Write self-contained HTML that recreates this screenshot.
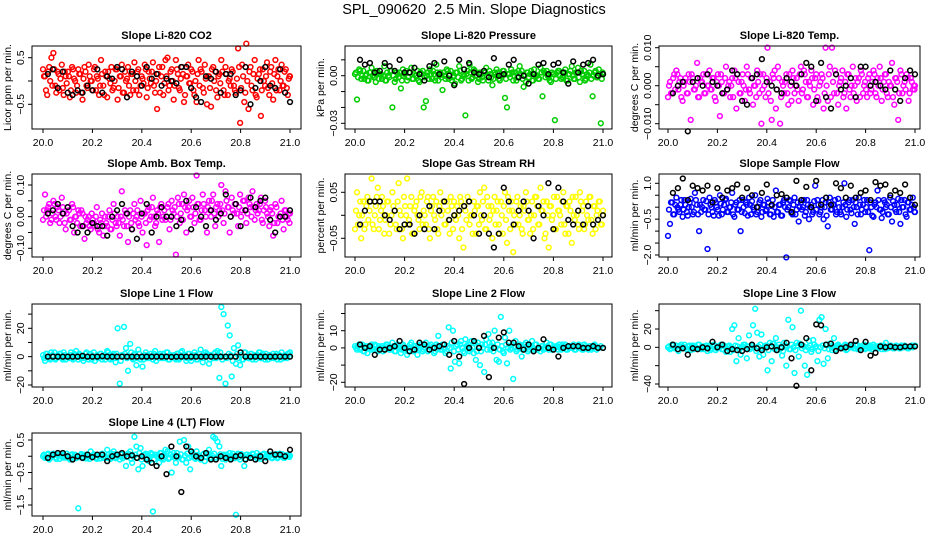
<!DOCTYPE html>
<html><head><meta charset="utf-8"><title>SPL_090620 2.5 Min. Slope Diagnostics</title>
<style>
html,body{margin:0;padding:0;background:#fff;}
svg{display:block;font-family:"Liberation Sans",Arial,sans-serif;}
</style></head>
<body>
<svg id="chart" width="936" height="540" viewBox="0 0 936 540" xmlns="http://www.w3.org/2000/svg">
<rect width="936" height="540" fill="#fff"/>
<text x="474" y="14" text-anchor="middle" font-size="14.5" xml:space="preserve">SPL_090620  2.5 Min. Slope Diagnostics</text>
</svg>
<script>
// shared time axes (day fraction)
const timesColor = [20.000,20.008,20.017,20.025,20.034,20.042,20.050,20.059,20.067,20.076,
20.084,20.092,20.101,20.109,20.118,20.126,20.134,20.143,20.151,20.160,
20.168,20.176,20.185,20.193,20.202,20.210,20.218,20.227,20.235,20.244,
20.252,20.260,20.269,20.277,20.286,20.294,20.302,20.311,20.319,20.328,
20.336,20.344,20.353,20.361,20.370,20.378,20.386,20.395,20.403,20.412,
20.420,20.428,20.437,20.445,20.454,20.462,20.470,20.479,20.487,20.496,
20.504,20.512,20.521,20.529,20.538,20.546,20.554,20.563,20.571,20.580,
20.588,20.596,20.605,20.613,20.622,20.630,20.638,20.647,20.655,20.664,
20.672,20.680,20.689,20.697,20.706,20.714,20.722,20.731,20.739,20.748,
20.756,20.764,20.773,20.781,20.790,20.798,20.806,20.815,20.823,20.832,
20.840,20.848,20.857,20.865,20.874,20.882,20.890,20.899,20.907,20.916,
20.924,20.932,20.941,20.949,20.958,20.966,20.974,20.983,20.991,21.000];
const timesColorB = [20.004,20.012,20.021,20.029,20.038,20.046,20.054,20.063,20.071,20.080,
20.088,20.096,20.105,20.113,20.122,20.130,20.138,20.147,20.155,20.164,
20.172,20.180,20.189,20.197,20.206,20.214,20.222,20.231,20.239,20.248,
20.256,20.264,20.273,20.281,20.290,20.298,20.306,20.315,20.323,20.332,
20.340,20.348,20.357,20.365,20.374,20.382,20.390,20.399,20.407,20.416,
20.424,20.432,20.441,20.449,20.458,20.466,20.474,20.483,20.491,20.500,
20.508,20.516,20.525,20.533,20.542,20.550,20.558,20.567,20.575,20.584,
20.592,20.600,20.609,20.617,20.626,20.634,20.642,20.651,20.659,20.668,
20.676,20.684,20.693,20.701,20.710,20.718,20.726,20.735,20.743,20.752,
20.760,20.768,20.777,20.785,20.794,20.802,20.810,20.819,20.827,20.836,
20.844,20.852,20.861,20.869,20.878,20.886,20.894,20.903,20.911,20.920,
20.928,20.936,20.945,20.953,20.962,20.970,20.978,20.987,20.995,20.998];
const timesBlack = [20.02,20.04,20.06,20.08,20.10,20.12,20.14,20.16,20.18,20.20,
20.22,20.24,20.26,20.28,20.30,20.32,20.34,20.36,20.38,20.40,
20.42,20.44,20.46,20.48,20.50,20.52,20.54,20.56,20.58,20.60,
20.62,20.64,20.66,20.68,20.70,20.72,20.74,20.76,20.78,20.80,
20.82,20.84,20.86,20.88,20.90,20.92,20.94,20.96,20.98,21.00];
const xTicks = [20.0,20.2,20.4,20.6,20.8,21.0];
const xTickLabels = ["20.0","20.2","20.4","20.6","20.8","21.0"];

const co2Color = [0.25,0.1,-0.3,0.3,0.5,0.6,-0.1,0.2,-0.2,0.35,-0.3,0.1,0.2,-0.35,0.3,0.05,-0.25,0.25,0.15,-0.4,0.3,-0.1,0.35,0.0,-0.2,0.3,0.1,-0.3,0.45,-0.1,0.2,-0.35,0.05,0.3,-0.15,0.25,-0.4,0.1,0.35,-0.25,0.0,0.3,-0.3,0.15,0.4,-0.2,0.25,-0.1,0.05,0.35,-0.35,0.2,-0.05,0.4,-0.25,-0.6,0.3,0.1,-0.3,0.45,0.5,-0.1,0.25,-0.4,0.45,0.15,-0.2,0.3,-0.45,0.1,0.35,-0.05,0.2,-0.3,-0.45,0.45,0.25,-0.15,0.35,-0.5,0.1,-0.55,0.3,0.2,-0.35,0.15,0.45,-0.2,0.3,-0.3,0.05,0.25,-0.1,-0.25,0.7,-0.9,0.35,-0.45,0.8,-0.6,0.3,-0.2,0.45,-0.35,0.15,-0.75,0.25,-0.1,0.4,-0.3,0.3,-0.4,0.45,0.1,-0.2,0.35,-0.1,0.25,-0.3,0.1];
const co2ColorB = [0.1,-0.2,0.2,0.0,-0.1,0.25,-0.25,0.15,0.05,-0.15,0.2,-0.05,0.1,-0.2,0.25,0.0,-0.1,0.15,-0.25,0.05,0.2,-0.15,0.1,0.0,0.25,-0.2,0.05,-0.1,0.15,-0.3,0.1,0.2,-0.05,-0.2,0.0,0.25,-0.15,0.1,-0.25,0.2,0.05,-0.1,0.15,-0.2,0.0,0.2,-0.3,0.1,-0.05,0.25,-0.15,0.05,0.2,-0.1,0.0,0.15,-0.25,0.3,-0.05,0.1,-0.2,0.2,0.0,-0.1,0.25,-0.15,0.05,0.15,-0.3,0.1,-0.05,0.25,-0.2,0.0,0.15,-0.1,0.2,-0.25,0.05,0.1,-0.15,0.25,0.0,-0.2,0.1,-0.05,0.2,-0.3,0.15,0.0,-0.1,0.2,-0.2,0.05,0.3,-0.15,0.1,-0.25,0.0,0.2,-0.1,0.15,-0.3,0.05,0.25,-0.2,0.0,0.1,-0.15,0.2,-0.05,0.15,-0.2,0.25,0.0,-0.1,0.2,-0.15,0.05,0.1];
const co2Black = [0.15,0.25,-0.15,0.2,-0.25,-0.3,-0.2,-0.25,-0.1,-0.2,0.25,-0.25,0.1,0.05,0.3,0.25,-0.35,0.2,0.1,-0.1,0.3,0.05,0.15,-0.1,0.05,0.0,-0.05,0.3,0.3,-0.15,-0.35,-0.45,0.1,0.05,0.2,-0.25,0.15,0.15,-0.3,-0.2,0.3,-0.5,-0.15,0.0,0.3,-0.1,-0.15,0.25,-0.25,-0.45];
const presColor = [0.001,-0.015,0.004,-0.002,0.003,0.0,-0.003,0.002,0.005,-0.001,-0.004,0.002,0.001,-0.002,0.006,-0.003,0.0,0.003,-0.02,-0.004,0.002,-0.001,-0.008,0.004,0.001,-0.003,0.002,0.005,-0.002,0.0,0.003,-0.004,0.001,-0.02,-0.016,0.002,0.004,-0.002,0.001,0.007,-0.003,0.002,-0.009,0.0,0.004,-0.002,0.003,-0.001,-0.005,0.002,0.006,-0.003,0.001,-0.025,0.003,0.007,-0.002,0.004,0.0,-0.004,0.002,-0.001,0.003,0.005,-0.003,0.001,-0.006,0.002,0.004,-0.002,0.0,0.003,-0.014,-0.02,0.001,0.004,-0.003,0.002,-0.001,0.006,0.003,-0.007,-0.004,0.002,0.001,-0.003,0.004,0.0,-0.002,0.005,-0.013,0.002,0.003,-0.001,-0.004,0.001,-0.028,0.002,0.003,-0.002,0.0,0.004,-0.003,0.001,0.006,-0.002,0.002,0.005,-0.004,0.001,0.003,-0.002,0.0,0.007,-0.013,0.002,-0.001,0.004,-0.03,0.001];
const presColorB = [0.002,-0.001,0.003,0.0,-0.002,0.001,-0.003,0.002,0.0,-0.001,0.003,-0.002,0.001,0.0,-0.003,0.002,-0.001,0.003,0.0,-0.002,0.001,0.002,-0.003,0.0,0.003,-0.001,0.002,-0.002,0.001,0.0,-0.003,0.002,0.003,-0.001,0.0,-0.002,0.001,0.003,-0.003,0.002,0.0,-0.001,0.002,-0.002,0.003,0.001,-0.003,0.0,0.002,-0.001,0.003,-0.002,0.0,0.001,-0.003,0.002,-0.001,0.003,0.0,-0.002,0.001,-0.003,0.002,0.0,0.003,-0.001,-0.002,0.001,0.002,-0.003,0.0,0.003,-0.002,0.001,-0.001,0.002,0.0,-0.003,0.003,0.001,-0.002,0.0,0.002,-0.001,0.003,-0.003,0.001,0.0,-0.002,0.002,0.003,-0.001,0.0,-0.003,0.002,0.001,-0.002,0.003,0.0,-0.001,0.002,-0.003,0.001,0.003,0.0,-0.002,0.002,-0.001,0.003,0.0,-0.003,0.001,0.002,-0.002,0.0,0.003,-0.001,0.001,-0.002,0.002];
const presBlack = [0.01,0.007,0.008,0.002,0.003,0.008,0.006,0.003,0.01,0.002,0.002,0.005,0.001,-0.003,0.006,0.008,0.001,0.009,0.0,-0.006,0.01,0.004,0.008,0.002,0.001,0.003,-0.001,0.011,0.0,0.001,0.007,0.01,-0.001,0.0,-0.005,0.001,0.007,0.008,0.001,0.007,0.008,0.002,-0.005,0.009,0.002,0.007,0.008,0.01,0.0,0.001];
const tempColor = [-0.003,0.001,-0.002,0.003,0.004,-0.001,0.002,-0.004,0.001,-0.002,0.003,-0.009,0.002,-0.001,0.006,-0.003,0.001,0.003,-0.002,0.0,0.004,-0.001,0.002,-0.004,0.003,-0.008,0.001,-0.002,0.005,0.0,-0.003,0.002,0.004,-0.006,0.001,-0.002,0.003,-0.004,0.005,-0.001,0.002,-0.005,0.0,0.004,-0.002,-0.01,0.003,-0.003,0.01,0.001,-0.009,0.002,-0.006,0.005,-0.01,0.001,-0.002,0.003,-0.005,0.0,0.004,-0.002,0.002,-0.004,0.005,-0.001,0.003,-0.003,0.001,0.004,-0.005,0.002,-0.003,0.0,0.003,-0.006,0.01,-0.004,0.005,0.01,-0.002,0.003,-0.005,0.001,0.004,-0.002,-0.006,0.003,-0.003,0.005,0.0,-0.004,0.002,0.004,-0.002,0.001,-0.003,0.003,-0.001,0.004,-0.002,0.002,0.005,-0.004,0.001,0.003,-0.003,0.0,0.006,-0.005,0.002,-0.009,0.004,-0.002,0.001,0.003,-0.004,0.002,-0.001,0.0];
const tempColorB = [0.0,-0.002,0.002,-0.001,0.003,0.001,-0.003,0.0,0.002,-0.002,0.001,0.003,-0.001,0.0,-0.003,0.002,0.001,-0.002,0.003,0.0,-0.001,0.002,-0.003,0.001,0.0,0.003,-0.002,0.002,-0.001,0.001,0.0,-0.003,0.002,0.003,-0.002,0.001,0.0,-0.001,0.003,-0.002,0.002,0.0,-0.003,0.001,0.003,-0.001,0.0,0.002,-0.002,-0.004,0.003,0.004,-0.001,0.002,-0.003,0.0,0.001,-0.002,0.003,-0.004,0.002,0.0,-0.001,0.003,-0.002,0.004,0.001,-0.003,0.0,0.002,-0.001,0.003,-0.004,0.001,0.002,-0.002,0.0,0.003,-0.003,0.001,0.004,-0.002,0.0,0.002,-0.003,0.001,0.003,-0.001,0.0,-0.002,0.002,0.001,-0.003,0.003,0.0,-0.001,0.002,-0.002,0.001,0.003,-0.003,0.0,0.002,-0.001,0.003,-0.002,0.001,0.0,-0.003,0.002,0.001,-0.002,0.003,0.0,-0.001,0.002,-0.002,0.001,0.0,-0.001];
const tempBlack = [-0.002,0.0,0.001,-0.012,0.001,0.002,0.0,0.003,0.001,0.0,-0.002,-0.001,0.004,0.003,-0.004,-0.005,0.002,0.003,0.007,0.001,0.0,-0.001,-0.002,0.002,0.001,0.0,0.003,0.006,0.005,-0.004,0.006,-0.003,-0.006,0.003,-0.001,0.0,0.002,-0.003,0.005,0.005,0.0,0.001,0.0,-0.001,0.004,-0.001,-0.004,0.002,0.004,0.003];
const ambColor = [-0.01,0.07,0.02,0.04,-0.01,0.05,0.0,0.03,-0.02,0.06,0.01,-0.04,0.03,-0.01,0.04,-0.05,0.0,0.02,-0.03,0.01,-0.07,-0.02,0.0,-0.04,-0.01,-0.03,0.03,-0.05,-0.02,-0.06,0.0,-0.03,0.02,-0.04,0.04,-0.02,0.0,-0.06,0.08,-0.03,0.01,-0.08,0.02,-0.04,0.04,0.0,-0.02,0.05,-0.05,0.01,-0.09,0.03,0.0,0.06,-0.03,0.02,-0.08,0.04,0.0,-0.01,0.03,-0.04,0.05,0.01,-0.12,0.06,-0.02,0.04,0.07,-0.05,0.03,0.0,0.06,-0.02,0.13,0.04,-0.01,0.07,0.02,-0.05,0.05,0.0,0.07,-0.03,0.04,0.02,0.1,-0.02,0.08,0.03,-0.05,0.06,0.01,0.04,-0.03,0.07,0.02,0.05,-0.02,0.06,0.03,0.08,-0.01,0.04,0.02,0.06,-0.02,0.05,0.01,-0.03,0.03,-0.06,0.04,-0.02,0.0,0.05,-0.04,0.02,-0.01,0.01];
const ambColorB = [0.02,0.0,0.03,-0.02,0.01,0.04,-0.01,0.02,0.0,0.03,-0.02,0.01,0.02,-0.01,0.03,0.0,-0.02,0.01,0.02,-0.03,0.0,-0.01,-0.03,0.01,-0.02,0.0,-0.04,-0.01,0.01,-0.03,-0.02,0.0,-0.04,-0.01,0.01,-0.03,-0.02,0.0,-0.01,0.02,-0.03,0.0,-0.02,0.01,-0.01,0.02,-0.03,0.0,0.01,-0.02,0.02,-0.01,0.03,0.0,-0.02,0.01,0.03,-0.01,0.02,0.0,0.04,-0.01,0.02,0.03,0.0,0.04,0.01,-0.01,0.03,0.02,0.05,0.0,0.03,0.01,0.04,-0.01,0.02,0.04,0.0,0.03,0.02,0.05,0.01,0.03,0.0,0.04,0.02,0.01,0.05,0.03,0.0,0.02,0.04,0.01,0.03,0.0,0.05,0.02,0.01,0.04,0.0,0.03,0.02,0.01,0.04,-0.01,0.02,0.03,0.0,0.02,0.01,-0.02,0.03,0.0,0.01,-0.01,0.02,0.0,0.01,-0.02];
const ambBlack = [0.01,0.02,0.04,0.01,0.03,-0.03,-0.05,-0.03,-0.05,-0.02,-0.03,-0.03,-0.06,0.0,0.02,0.04,0.01,-0.04,-0.07,0.01,0.04,-0.05,0.0,0.03,0.0,0.0,-0.03,-0.01,0.05,-0.04,0.03,0.0,-0.03,0.02,-0.01,0.01,0.07,0.0,0.04,-0.03,0.02,0.06,0.03,0.05,0.06,-0.01,-0.05,0.0,0.0,0.02];
const rhColor = [-0.03,0.05,0.0,-0.05,0.03,-0.02,0.04,0.01,0.08,-0.03,0.02,0.06,-0.01,0.04,-0.04,0.0,0.03,-0.02,0.05,0.01,-0.03,0.07,0.0,-0.05,0.02,0.08,-0.01,0.04,-0.04,0.02,0.0,-0.03,0.05,0.01,-0.02,0.04,-0.05,0.02,0.0,0.03,-0.04,0.05,0.01,-0.02,0.03,-0.01,0.04,-0.03,0.0,0.02,-0.05,0.03,-0.07,0.01,0.04,-0.02,0.0,0.03,-0.04,0.02,0.05,-0.01,0.06,-0.03,0.02,0.0,-0.05,0.04,0.01,-0.02,0.03,-0.04,0.05,-0.06,0.01,0.03,-0.08,-0.02,0.04,0.0,-0.03,0.02,0.05,-0.01,-0.04,0.03,0.0,0.04,-0.02,0.06,0.01,-0.05,0.03,-0.07,0.02,0.0,-0.03,0.04,0.01,-0.02,0.05,-0.04,0.02,0.03,-0.06,0.0,0.04,-0.02,0.05,0.01,-0.03,0.03,-0.01,0.04,-0.04,0.02,0.0,0.03,-0.02,0.01];
const rhColorB = [0.01,-0.02,0.03,0.0,-0.03,0.02,-0.01,0.03,-0.02,0.0,0.04,-0.03,0.01,0.02,-0.01,0.03,-0.04,0.0,0.02,-0.02,0.03,0.01,-0.03,0.04,0.0,-0.02,0.02,-0.04,0.01,0.03,-0.01,0.04,-0.02,0.0,0.03,-0.03,0.01,0.04,-0.01,-0.03,0.02,0.0,0.03,-0.02,0.01,-0.04,0.02,0.03,-0.01,0.0,0.04,-0.03,0.02,-0.01,0.03,0.0,-0.04,0.01,0.02,-0.02,0.0,0.03,-0.03,0.04,-0.01,0.02,0.01,-0.02,0.03,-0.04,0.0,0.02,-0.01,0.04,-0.03,0.01,0.0,0.03,-0.02,0.02,-0.04,0.01,0.03,-0.01,0.0,-0.03,0.04,0.02,-0.02,0.01,0.03,-0.04,0.0,0.02,-0.01,0.04,-0.03,0.01,0.0,0.03,-0.02,0.02,-0.04,0.01,0.04,-0.01,0.0,-0.03,0.03,0.02,-0.02,0.0,0.04,-0.01,0.02,-0.03,0.01,0.03,-0.02,0.0];
const rhBlack = [-0.02,0.01,0.03,0.03,0.03,0.0,-0.01,0.01,-0.03,-0.02,-0.02,-0.04,0.0,-0.03,0.02,-0.03,0.01,0.03,-0.01,0.0,0.01,0.02,0.03,0.0,-0.04,0.0,-0.04,-0.07,-0.04,0.06,0.03,-0.02,0.01,0.03,0.01,-0.05,0.02,0.0,0.07,-0.03,0.06,0.03,-0.01,-0.02,0.01,-0.02,0.02,-0.02,-0.01,0.0];
const sampColor = [-1.2,-0.7,0.2,-0.3,0.4,-0.1,0.1,-0.4,0.3,-0.2,0.0,0.35,-0.3,0.6,0.1,-1.0,-0.2,0.3,-0.1,-1.75,0.4,0.0,-0.35,0.2,-0.1,0.5,-0.3,0.1,0.35,-0.2,0.0,0.6,-0.4,0.2,-0.1,-1.0,0.3,-0.25,0.1,0.4,-0.3,0.0,0.5,-0.2,0.2,-0.4,0.1,-0.15,0.35,-0.3,0.05,-0.4,0.7,-0.2,0.1,-0.35,0.3,-2.1,0.0,0.25,-0.3,0.4,-0.1,-0.6,0.2,0.0,-0.35,0.3,-0.5,0.1,-0.2,0.9,0.3,-0.3,0.0,-0.5,0.2,-0.8,0.4,-0.1,0.1,-0.3,0.35,-0.2,0.0,1.0,-0.4,0.2,-0.1,0.3,-0.7,0.0,0.4,-0.3,0.1,-0.2,0.3,-1.8,0.0,-0.4,0.2,0.7,-0.1,-0.45,0.3,0.0,-0.3,0.4,-0.6,0.1,-0.2,0.35,-0.7,0.0,0.3,-0.4,0.2,-0.1,0.4,-0.2];
const sampColorB = [-0.1,0.2,-0.3,0.1,0.0,-0.2,0.3,-0.1,0.1,-0.35,0.2,0.0,-0.2,0.3,-0.3,0.1,0.0,-0.1,0.25,-0.3,0.1,-0.2,0.3,0.0,-0.35,0.15,-0.1,0.3,-0.2,0.0,0.2,-0.3,0.1,-0.1,0.3,-0.2,0.0,0.2,-0.35,0.1,0.25,-0.1,-0.3,0.0,0.3,-0.2,0.1,-0.1,0.2,-0.3,0.3,0.0,-0.2,0.1,-0.35,0.2,0.0,-0.1,0.3,-0.25,0.1,-0.3,0.2,0.0,-0.1,0.3,-0.2,0.1,0.0,-0.3,0.25,-0.1,0.1,-0.2,0.3,0.0,-0.35,0.2,-0.1,0.1,0.3,-0.2,0.0,-0.3,0.2,0.1,-0.1,0.3,-0.25,0.0,0.2,-0.3,0.1,-0.1,0.3,0.0,-0.2,0.2,-0.35,0.1,0.0,0.3,-0.1,-0.2,0.2,0.1,-0.3,0.0,0.25,-0.1,0.1,-0.2,0.3,0.0,-0.3,0.2,-0.1,0.1,0.0,-0.2];
const sampBlack = [0.6,0.8,1.2,0.3,0.9,0.8,0.7,0.9,0.2,0.8,0.4,0.7,0.8,0.95,0.4,0.8,0.5,0.0,0.6,0.95,0.1,0.5,0.55,0.4,-0.2,1.1,0.3,0.85,0.0,1.1,0.1,0.4,0.1,1.0,0.8,0.4,0.9,0.4,0.6,0.7,0.3,1.05,0.9,0.95,0.5,0.7,0.6,0.95,0.4,0.1];
const l1Color = [1,-3,2,-1,3,0,-2,1,2,-1,3,-2,0,1,-1,2,4,-2,1,0,-1,3,-2,2,0,-3,1,-1,2,0,-2,4,1,-1,2,-4,20,-19,1,21,6,-10,9,-1,2,-6,5,-2,-7,1,-1,0,2,-2,4,1,-1,0,2,-1,3,-2,0,1,-2,2,-1,4,0,-3,2,-1,1,3,-2,0,5,-4,1,2,-5,1,-1,3,4,-15,35,30,-19,22,15,-14,6,-5,8,-6,-2,3,0,-1,2,-2,1,0,3,-1,2,-2,0,1,-1,2,0,-2,1,3,-1,0,2,3];
const l1ColorB = [-1,2,0,-2,1,3,-1,0,2,-2,1,0,-1,3,-2,1,0,2,-1,-3,2,0,1,-2,3,0,-1,2,-2,1,0,3,-2,1,-1,2,0,-3,1,2,-1,0,3,-2,1,-1,2,0,-2,3,1,-1,0,2,-3,1,2,-1,0,3,-2,1,0,-1,2,-2,3,0,1,-1,2,-3,0,1,-2,2,0,-1,3,1,-2,0,2,-1,1,3,-2,0,-1,2,1,-3,0,2,-1,1,-2,3,0,-1,2,0,-2,1,3,-1,0,2,-2,1,0,-1,2,1,-2,0,1,-1,2,0];
const l1Black = [0,0,0,0,0,0,0,0.5,0,0,0,0.3,0,0,0,0,0,0,0,0,0,0,0,0,0,-0.2,0,0,0,0,0,0,0,0,0,0,0,0,0,3,0,0,0,0,0,0,0,0,0,0];
const l2Color = [1,-1,2,0,-2,1,-3,0,2,-1,1,-2,0,1,-1,2,0,-1,3,-2,1,0,-3,2,-1,-4,0,3,-2,1,-4,0,2,-1,3,-2,1,0,-3,2,7,-1,2,0,-2,12,-12,10,-8,2,-9,4,-2,5,1,-2,4,-3,-7,3,-10,2,-14,5,8,-1,3,10,-7,-8,18,-2,6,-9,10,0,-18,4,-1,2,-5,0,3,-2,1,4,-1,2,0,-2,1,0,3,-1,2,-1,0,1,2,-1,0,2,-1,1,0,2,-1,0,1,-1,2,0,-1,1,0,2,-1,0,1,0];
const l2ColorB = [0,1,-1,2,-2,0,1,-1,0,2,-1,1,0,-2,1,2,-1,0,1,-2,2,0,-1,1,0,-2,2,-1,1,0,-1,2,-2,0,1,-1,2,0,-2,1,0,-1,2,-3,1,0,3,-2,1,-1,2,0,-3,1,2,-1,0,3,-2,1,-2,0,2,-1,3,1,-2,0,2,-1,1,-3,2,0,-1,2,1,-2,0,1,-1,2,0,-1,1,0,2,-1,0,1,-1,0,1,2,-1,0,1,-1,0,2,1,-1,0,1,0,-1,1,2,0,-1,1,0,1,-1,0,1];
const l2Black = [2,0,1,-4,-1,-1,0,1,4,0,-2,-1,3,2,-1,0,1,2,-4,4,-5,-21,0,4,0,7,-17,0,6,9,3,3,1,-1,2,-2,0,5,0,-1,-5,0,1,1,1,0,0,1,0,0];
const l3Color = [0,-2,3,-1,2,-4,1,0,3,-2,1,-3,2,0,-1,3,-2,1,0,-4,2,-1,3,-3,1,0,-2,2,-5,1,-5,20,24,-15,10,-8,1,3,-12,13,0,24,42,16,-10,14,-8,2,-25,5,-15,4,10,-3,0,-9,5,-20,30,-2,22,-28,5,-10,40,2,-20,-30,7,-5,8,0,-15,30,33,-18,20,-12,4,-3,10,-2,3,0,-1,2,-3,1,0,2,-1,3,-2,1,0,-2,2,-1,0,3,-1,1,0,-2,2,5,-1,0,1,-1,2,0,-1,1,2,0,-1,1,0,2];
const l3ColorB = [1,-1,2,0,-2,1,3,-1,0,-3,2,1,-2,0,3,-1,1,-2,2,0,-3,1,2,-1,0,3,-2,1,-1,2,0,-3,2,1,-2,0,3,-1,1,-2,2,0,-4,1,3,-1,0,2,-3,1,4,-2,0,3,-1,-4,2,1,-2,3,0,-3,2,4,-1,1,-3,0,2,-2,3,1,-4,0,2,-1,3,-2,1,0,-2,2,1,-1,0,3,-2,1,0,-1,2,-2,1,0,3,-1,0,2,-2,1,0,-1,2,1,-2,0,1,2,-1,0,1,-1,2,0,1,-1,0,2];
const l3Black = [3,-2,-1,-8,-1,-2,0,-1,6,0,3,-4,-2,-3,-4,-2,3,-1,-3,0,1,-3,0,5,-12,-42,3,10,-25,25,24,3,4,-4,-1,0,3,7,-3,6,-9,-6,1,0,1,0,0,1,1,1];
const l4Color = [0.0,-0.05,0.05,-0.1,0.02,0.08,-0.03,0.04,-0.08,0.0,0.05,-0.04,0.02,-0.1,0.06,0.0,-0.06,-1.6,0.03,-0.02,0.05,-0.07,0.0,0.15,-0.03,0.04,-0.08,0.02,0.06,-0.05,0.0,0.2,-0.04,0.08,0.15,-0.06,0.02,-0.1,0.05,0.0,-0.3,0.08,0.15,-0.2,0.6,0.3,-0.4,0.25,-0.3,0.05,-0.1,-0.15,0.1,-1.7,0.05,0.0,-0.2,0.1,-0.1,0.2,0.15,-0.05,-0.5,0.1,-0.2,0.0,0.45,-0.1,0.5,-0.2,0.3,-0.4,0.1,-0.05,0.15,0.0,-0.1,0.05,-0.15,0.1,0.2,-0.05,0.6,0.55,0.45,0.3,-0.3,0.05,-0.1,0.0,0.1,-0.05,0.0,-1.8,0.08,-0.1,0.02,-0.3,0.05,0.0,-0.05,0.08,-0.02,0.1,0.0,-0.08,0.05,-0.03,0.06,0.0,-0.04,0.05,0.02,-0.06,0.08,0.0,-0.05,0.03,0.0,0.02];
const l4ColorB = [0.05,-0.02,0.08,-0.06,0.0,0.04,-0.08,0.02,0.06,-0.04,0.0,0.08,-0.05,0.03,-0.08,0.05,0.0,-0.03,0.07,-0.06,0.02,0.05,-0.08,0.0,0.06,-0.04,0.03,-0.07,0.08,0.0,-0.05,0.04,-0.08,0.02,0.06,-0.03,0.0,0.08,-0.06,0.04,-0.02,0.07,-0.08,0.0,0.05,-0.05,0.1,-0.1,0.03,0.08,-0.06,0.0,0.06,-0.1,0.04,-0.03,0.1,-0.06,0.0,0.08,-0.08,0.05,0.0,-0.05,0.1,-0.03,0.06,-0.1,0.02,0.08,-0.05,0.0,0.06,-0.08,0.04,0.0,-0.06,0.08,-0.02,0.05,-0.07,0.03,0.08,-0.04,0.0,0.06,-0.08,0.02,0.05,-0.05,0.0,0.08,-0.06,0.03,-0.03,0.07,0.0,-0.08,0.05,0.02,-0.05,0.06,0.0,-0.07,0.04,-0.02,0.08,-0.04,0.0,0.05,-0.06,0.03,0.07,-0.03,0.0,0.06,-0.05,0.02,0.04,-0.02];
const l4Black = [-0.05,0.05,0.1,0.1,0.0,-0.1,0.0,-0.05,0.05,-0.03,0.05,0.05,-0.15,0.0,0.05,0.1,0.0,0.03,-0.05,0.0,-0.1,-0.2,-0.3,0.0,-0.55,0.3,0.0,-1.1,0.3,0.15,0.0,-0.05,0.1,-0.1,-0.1,0.0,-0.05,-0.1,0.0,0.03,-0.1,-0.05,-0.1,0.0,-0.15,0.15,0.05,0.05,0.0,0.2];

const panelTitles = ["Slope Li-820 CO2","Slope Li-820 Pressure","Slope Li-820 Temp.","Slope Amb. Box Temp.","Slope Gas Stream RH","Slope Sample Flow","Slope Line 1 Flow","Slope Line 2 Flow","Slope Line 3 Flow","Slope Line 4 (LT) Flow"];
const yTitles = ["Licor ppm per min.","kPa per min.","degrees C per min.","degrees C per min.","percent per min.","ml/min per min.","ml/min per min.","ml/min per min.","ml/min per min.","ml/min per min."];
const yTicks = [[0.5,0,-0.5],[0.01,0,-0.01,-0.02,-0.03],[0.01,0.005,0,-0.005,-0.01],[0.1,0.05,0,-0.05,-0.1],[0.05,0,-0.05],[1,0.5,0,-0.5,-1,-1.5,-2],[30,20,10,0,-10,-20],[20,10,0,-10,-20],[40,20,0,-20,-40],[0.5,0,-0.5,-1,-1.5]];
const yTickLabels = [["0.5","","−0.5"],["","0.00","","","−0.03"],["0.010","","0.000","","−0.010"],["0.10","","0.00","","−0.10"],["0.05","","−0.05"],["1.0","","","−0.5","","","−2.0"],["","20","","0","","−20"],["","10","0","","−20"],["","20","0","","−40"],["0.5","","−0.5","","−1.5"]];
const colorSeries = [co2Color,presColor,tempColor,ambColor,rhColor,sampColor,l1Color,l2Color,l3Color,l4Color];
const colorSeriesB = [co2ColorB,presColorB,tempColorB,ambColorB,rhColorB,sampColorB,l1ColorB,l2ColorB,l3ColorB,l4ColorB];
const blackSeries = [co2Black,presBlack,tempBlack,ambBlack,rhBlack,sampBlack,l1Black,l2Black,l3Black,l4Black];
const seriesColors = ["#ff0000","#00cd00","#ff00ff","#ff00ff","#ffff00","#0000ff","#00ffff","#00ffff","#00ffff","#00ffff"];

// layout (pixel geometry)
const colBox = [[32,301,43,290],[345,612,355,603],[659,920,668,915]];
const rowBox = [[46,129],[174,257],[304,387],[433,516]];
const yCal = [[0.5,57.7,-0.5,104.3],[0,75.7,-0.03,123.3],[0.01,47.7,-0.01,123.7],[0.1,185,-0.1,248.3],[0.05,192.3,-0.05,238.3],[1,183.3,-2,255],[20,328.3,-20,385],[10,330.7,-20,382.3],[20,329,-40,384],[0.5,440,-1.5,505]];

const NS = "http://www.w3.org/2000/svg";
const svg = document.getElementById("chart");
function mk(tag, attrs, parent){const e=document.createElementNS(NS,tag);for(const k in attrs)e.setAttribute(k,attrs[k]);(parent||svg).appendChild(e);return e;}

for (let p=0;p<10;p++){
  const c=colBox[p%3], r=rowBox[Math.floor(p/3)], cal=yCal[p];
  const xs=v=>c[2]+(v-20)*(c[3]-c[2]);
  const ys=v=>cal[1]+(v-cal[0])*(cal[3]-cal[1])/(cal[2]-cal[0]);
  const g=mk("g",{});
  
  
  const t=mk("text",{x:(c[0]+c[1])/2,y:r[0]-7,"text-anchor":"middle","font-size":"11","font-weight":"bold"},g);
  t.textContent=panelTitles[p];
  
  
  const drawSet=(times,vals,col,name)=>{
    const n=Math.min(times.length,vals.length);
    for(let i=0;i<n;i++){
      const pt=mk("circle",{cx:xs(times[i]).toFixed(1),cy:ys(vals[i]).toFixed(1),r:2.4,fill:"none",stroke:col,"stroke-width":1.5},g);
      
      
    }
  };
  drawSet(timesColorB,colorSeriesB[p],seriesColors[p],'point');
  drawSet(timesColor,colorSeries[p],seriesColors[p],'point');
  drawSet(timesBlack,blackSeries[p],"#000",'reference-point');
  const box=mk("rect",{x:c[0],y:r[0],width:c[1]-c[0],height:r[1]-r[0],fill:"none",stroke:"#000","stroke-width":1},g);
  
  
  for(let i=0;i<xTicks.length;i++){
    const x=xs(xTicks[i]);
    mk("line",{x1:x,x2:x,y1:r[1],y2:r[1]+4,stroke:"#000"},g);
    const lt=mk("text",{x:x,y:r[1]+17,"text-anchor":"middle","font-size":"10.5"},g);
    lt.textContent=xTickLabels[i];
    
    
  }
  const yt=yTicks[p], yl=yTickLabels[p];
  for(let i=0;i<yt.length;i++){
    const y=ys(yt[i]);
    mk("line",{x1:c[0]-4,x2:c[0],y1:y,y2:y,stroke:"#000"},g);
    if(yl[i]){
      const lt=mk("text",{x:0,y:0,"text-anchor":"middle","font-size":"10.5",transform:`translate(${c[0]-8},${y}) rotate(-90)`},g);
      lt.textContent=yl[i];
      
      
    }
  }
  const ty=mk("text",{x:0,y:0,"text-anchor":"middle","font-size":"10.5",transform:`translate(${c[0]-21},${(r[0]+r[1])/2}) rotate(-90)`},g);
  ty.textContent=yTitles[p];
  
  
}
</script>
</body></html>
